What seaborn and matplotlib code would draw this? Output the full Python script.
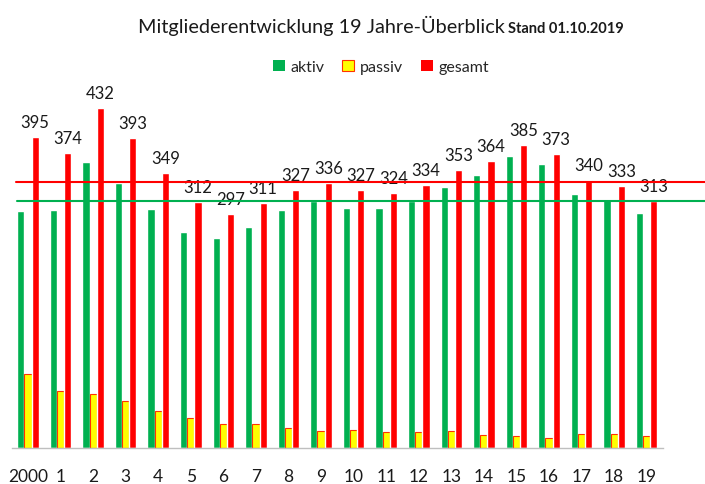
import matplotlib
matplotlib.use('Agg')
import matplotlib.pyplot as plt
from matplotlib.patches import Patch
import seaborn as sns
import pandas as pd

# Daten
jahre = ['2000', '1', '2', '3', '4', '5', '6', '7', '8', '9',
         '10', '11', '12', '13', '14', '15', '16', '17', '18', '19']
aktiv = [301, 302, 363, 336, 303, 274, 266, 281, 302, 314,
         304, 304, 314, 331, 347, 370, 360, 322, 315, 298]
passiv = [94, 72, 69, 60, 47, 38, 31, 30, 25, 22,
          23, 20, 20, 22, 17, 15, 13, 18, 18, 15]
gesamt = [395, 374, 432, 393, 349, 312, 297, 311, 327, 336,
          327, 324, 334, 353, 364, 385, 373, 340, 333, 313]
serien = ['aktiv', 'passiv', 'gesamt']
linie_gesamt = 338
linie_aktiv = 313

farben = {'aktiv': '#00B050', 'passiv': '#FFFF00', 'gesamt': '#FF0000'}

df = pd.DataFrame({'jahr': jahre, 'aktiv': aktiv, 'passiv': passiv, 'gesamt': gesamt})
df = df.melt(id_vars='jahr', var_name='serie', value_name='wert')

sns.set_theme(style='white')
plt.rcParams['font.family'] = ['Lato', 'DejaVu Sans']

fig = plt.figure(figsize=(7.05, 4.85), dpi=100)
ax = fig.add_axes([11.7 / 705, 36 / 485, 651.3 / 705, 369 / 485])

sns.barplot(data=df, x='jahr', y='wert', hue='serie', hue_order=serien,
            order=jahre, palette=farben, width=0.66, saturation=1,
            legend=False, ax=ax)

# gelbe Balken mit rotem Rand
for p in ax.containers[1]:
    p.set_edgecolor('#FF3300')
    p.set_linewidth(0.8)

ax.bar_label(ax.containers[2], labels=[str(v) for v in gesamt],
             padding=5, fontsize=12, color='#1a1a1a')

# Referenzlinien
ax.axhline(linie_gesamt, xmin=0.007, xmax=1.07, color='#FF0000', lw=1.5,
           clip_on=False, zorder=5)
ax.axhline(linie_aktiv, xmin=0.008, xmax=1.07, color='#00B050', lw=1.5,
           clip_on=False, zorder=5)

ax.set_ylim(0, 369 / 0.788)
ax.set_yticks([])
ax.set_xlabel('')
ax.set_ylabel('')
ax.tick_params(axis='x', length=0, pad=14.5, labelsize=12.5, labelcolor='#1a1a1a')
for s in ['left', 'right', 'top']:
    ax.spines[s].set_visible(False)
ax.spines['bottom'].set_color('#BFBFBF')
ax.spines['bottom'].set_linewidth(1)

# Legende
handles = [Patch(facecolor=farben['aktiv'], edgecolor='none'),
           Patch(facecolor=farben['passiv'], edgecolor='#FF3300', linewidth=0.8),
           Patch(facecolor=farben['gesamt'], edgecolor='none')]
fig.legend(handles, serien, loc='center', bbox_to_anchor=(381 / 705, 1 - 68 / 485),
           ncol=3, frameon=False, handlelength=0.75, handleheight=0.75,
           handletextpad=0.35, columnspacing=1.1, fontsize=11.5)

# Titel
fig.text(505 / 705, 1 - 33 / 485, 'Mitgliederentwicklung 19 Jahre-Überblick',
         ha='right', va='baseline', fontsize=14.3, color='#1a1a1a')
fig.text(508 / 705, 1 - 33 / 485, 'Stand 01.10.2019',
         ha='left', va='baseline', fontsize=10.5, fontweight='bold', color='#1a1a1a')

fig.savefig('out.png', dpi=100)
